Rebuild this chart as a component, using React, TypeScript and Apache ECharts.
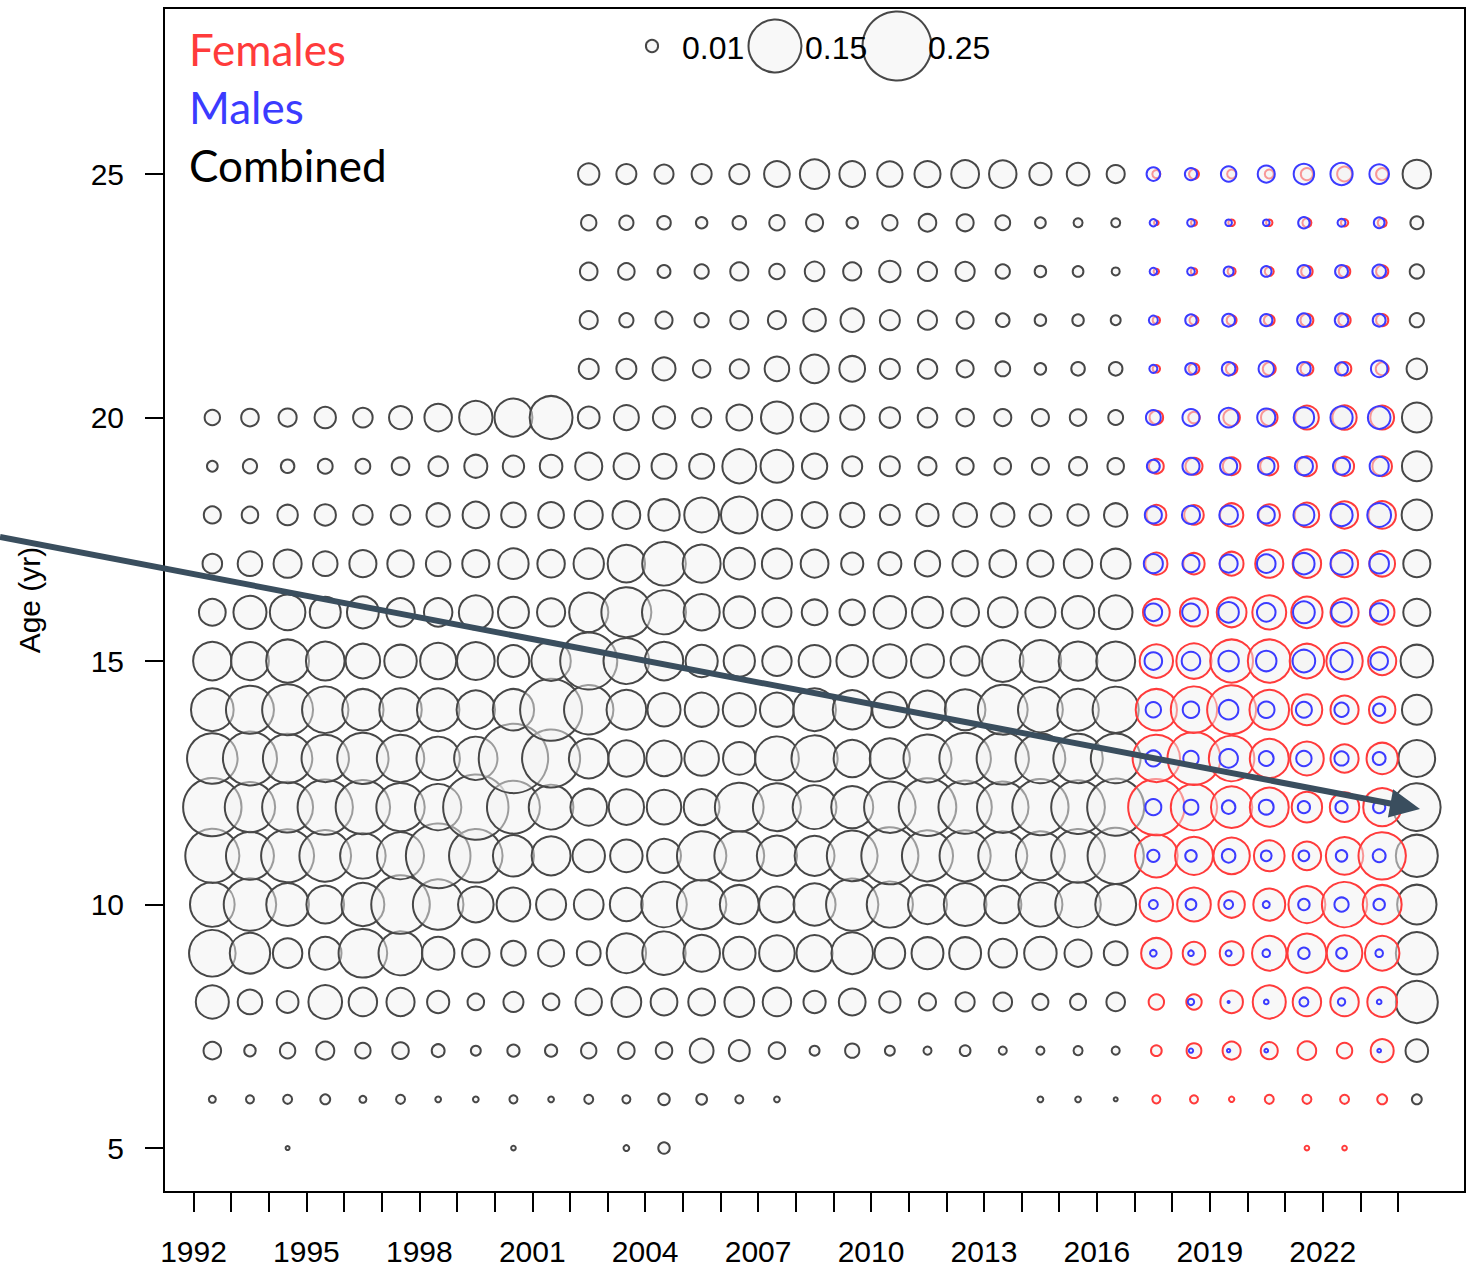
import React, { useEffect, useRef } from "react";
import * as echarts from "echarts";

// ---- data ----
const ages = [5, 6, 7, 8, 9, 10, 11, 12, 13, 14, 15, 16, 17, 18, 19, 20, 21, 22, 23, 24, 25];
const combinedYears = [1992, 1993, 1994, 1995, 1996, 1997, 1998, 1999, 2000, 2001, 2002, 2003, 2004, 2005, 2006, 2007, 2008, 2009, 2010, 2011, 2012, 2013, 2014, 2015, 2016, 2024];
const sexYears = [2017, 2018, 2019, 2020, 2021, 2022, 2023];
const xTickYears = [1992, 1993, 1994, 1995, 1996, 1997, 1998, 1999, 2000, 2001, 2002, 2003, 2004, 2005, 2006, 2007, 2008, 2009, 2010, 2011, 2012, 2013, 2014, 2015, 2016, 2017, 2018, 2019, 2020, 2021, 2022, 2023, 2024];
const xLabelYears = [1992, 1995, 1998, 2001, 2004, 2007, 2010, 2013, 2016, 2019, 2022];
const yTickAges = [5, 10, 15, 20, 25];
const sizeLegendValues = [0.01, 0.15, 0.25];
const sizeLegendLabels = ["0.01", "0.15", "0.25"];
const legendNames = ["Females", "Males", "Combined"];

type Row = (number | null)[];
const n = null;

// proportions at age 5..25, one row per year of combinedYears
const combinedValues: Row[] = [
  [n, 0.004, 0.019, 0.061, 0.117, 0.108, 0.156, 0.181, 0.137, 0.099, 0.081, 0.041, 0.023, 0.018, 0.008, 0.015, n, n, n, n, n],
  [n, 0.005, 0.009, 0.035, 0.089, 0.147, 0.124, 0.136, 0.156, 0.124, 0.079, 0.061, 0.035, 0.017, 0.013, 0.019, n, n, n, n, n],
  [0.0018, 0.006, 0.015, 0.028, 0.049, 0.099, 0.15, 0.139, 0.131, 0.139, 0.1, 0.07, 0.045, 0.025, 0.012, 0.02, n, n, n, n, n],
  [n, 0.007, 0.02, 0.063, 0.059, 0.078, 0.143, 0.163, 0.121, 0.116, 0.082, 0.054, 0.035, 0.027, 0.014, 0.027, n, n, n, n, n],
  [n, 0.004, 0.015, 0.046, 0.127, 0.1, 0.112, 0.158, 0.141, 0.093, 0.066, 0.057, 0.042, 0.023, 0.014, 0.023, n, n, n, n, n],
  [n, 0.006, 0.017, 0.045, 0.105, 0.182, 0.119, 0.126, 0.121, 0.098, 0.059, 0.046, 0.04, 0.023, 0.019, 0.031, n, n, n, n, n],
  [n, 0.003, 0.011, 0.029, 0.059, 0.137, 0.22, 0.116, 0.102, 0.098, 0.072, 0.046, 0.035, 0.032, 0.023, 0.043, n, n, n, n, n],
  [n, 0.003, 0.007, 0.017, 0.043, 0.07, 0.153, 0.225, 0.102, 0.081, 0.078, 0.064, 0.042, 0.04, 0.031, 0.062, n, n, n, n, n],
  [0.0022, 0.005, 0.01, 0.024, 0.035, 0.063, 0.092, 0.15, 0.253, 0.093, 0.056, 0.054, 0.052, 0.035, 0.027, 0.079, n, n, n, n, n],
  [n, 0.003, 0.01, 0.017, 0.039, 0.051, 0.083, 0.108, 0.179, 0.203, 0.085, 0.045, 0.043, 0.038, 0.03, 0.1, n, n, n, n, n],
  [n, 0.006, 0.015, 0.04, 0.033, 0.05, 0.059, 0.074, 0.086, 0.131, 0.173, 0.084, 0.052, 0.045, 0.042, 0.028, 0.024, 0.02, 0.019, 0.015, 0.027],
  [0.003, 0.005, 0.017, 0.05, 0.085, 0.061, 0.059, 0.069, 0.072, 0.086, 0.113, 0.134, 0.077, 0.044, 0.038, 0.036, 0.024, 0.013, 0.017, 0.013, 0.024],
  [0.009, 0.009, 0.017, 0.041, 0.102, 0.112, 0.064, 0.066, 0.069, 0.061, 0.081, 0.105, 0.103, 0.055, 0.036, 0.029, 0.031, 0.018, 0.011, 0.012, 0.022],
  [n, 0.008, 0.033, 0.041, 0.074, 0.131, 0.131, 0.071, 0.066, 0.064, 0.058, 0.072, 0.079, 0.067, 0.036, 0.022, 0.019, 0.013, 0.013, 0.009, 0.024],
  [n, 0.005, 0.026, 0.05, 0.059, 0.083, 0.133, 0.128, 0.059, 0.061, 0.055, 0.056, 0.055, 0.074, 0.064, 0.038, 0.022, 0.02, 0.02, 0.012, 0.024],
  [n, 0.003, 0.017, 0.046, 0.07, 0.07, 0.088, 0.124, 0.104, 0.064, 0.049, 0.048, 0.051, 0.051, 0.06, 0.057, 0.035, 0.02, 0.015, 0.015, 0.038],
  [n, n, 0.007, 0.029, 0.072, 0.096, 0.087, 0.104, 0.115, 0.099, 0.057, 0.038, 0.044, 0.038, 0.037, 0.044, 0.046, 0.03, 0.023, 0.018, 0.049],
  [n, n, 0.013, 0.041, 0.094, 0.146, 0.138, 0.096, 0.076, 0.083, 0.056, 0.037, 0.029, 0.034, 0.024, 0.034, 0.038, 0.032, 0.02, 0.009, 0.038],
  [n, n, 0.007, 0.027, 0.053, 0.115, 0.173, 0.142, 0.088, 0.069, 0.062, 0.059, 0.031, 0.024, 0.024, 0.025, 0.024, 0.024, 0.027, 0.015, 0.037],
  [n, n, 0.005, 0.018, 0.057, 0.083, 0.14, 0.176, 0.124, 0.079, 0.061, 0.054, 0.037, 0.029, 0.02, 0.023, 0.023, 0.022, 0.022, 0.019, 0.039],
  [n, n, 0.008, 0.022, 0.057, 0.099, 0.14, 0.152, 0.142, 0.09, 0.048, 0.044, 0.037, 0.033, 0.018, 0.019, 0.018, 0.018, 0.022, 0.018, 0.044],
  [n, n, 0.005, 0.021, 0.046, 0.076, 0.129, 0.142, 0.146, 0.133, 0.094, 0.05, 0.041, 0.032, 0.017, 0.018, 0.014, 0.012, 0.013, 0.014, 0.043],
  [n, 0.003, 0.005, 0.016, 0.059, 0.105, 0.129, 0.168, 0.133, 0.109, 0.094, 0.051, 0.039, 0.028, 0.018, 0.018, 0.009, 0.009, 0.009, 0.008, 0.029],
  [n, 0.003, 0.006, 0.016, 0.042, 0.112, 0.154, 0.154, 0.131, 0.094, 0.083, 0.059, 0.046, 0.027, 0.02, 0.017, 0.012, 0.009, 0.008, 0.006, 0.03],
  [n, 0.0018, 0.005, 0.021, 0.033, 0.091, 0.168, 0.173, 0.133, 0.115, 0.083, 0.063, 0.05, 0.032, 0.017, 0.014, 0.012, 0.007, 0.005, 0.006, 0.02],
  [n, 0.007, 0.03, 0.096, 0.096, 0.085, 0.096, 0.122, 0.074, 0.05, 0.059, 0.042, 0.042, 0.052, 0.05, 0.05, 0.025, 0.013, 0.013, 0.011, 0.046],
];

// one row per year of sexYears
const femaleValues: Row[] = [
  [n, 0.005, 0.008, 0.015, 0.052, 0.062, 0.099, 0.169, 0.121, 0.093, 0.062, 0.041, 0.029, 0.024, 0.014, 0.012, 0.0044, 0.0044, 0.0027, 0.0022, 0.005],
  [n, 0.005, 0.014, 0.015, 0.03, 0.063, 0.079, 0.116, 0.15, 0.116, 0.069, 0.045, 0.027, 0.023, 0.018, 0.009, 0.008, 0.006, 0.0035, 0.0032, 0.007],
  [n, 0.0027, 0.02, 0.03, 0.033, 0.04, 0.073, 0.093, 0.112, 0.129, 0.1, 0.05, 0.033, 0.032, 0.019, 0.017, 0.009, 0.007, 0.005, 0.0037, 0.006],
  [n, 0.006, 0.018, 0.061, 0.066, 0.057, 0.053, 0.083, 0.083, 0.086, 0.1, 0.064, 0.045, 0.027, 0.02, 0.017, 0.011, 0.008, 0.006, 0.0035, 0.006],
  [0.0022, 0.006, 0.021, 0.046, 0.083, 0.075, 0.046, 0.052, 0.063, 0.053, 0.066, 0.055, 0.046, 0.035, 0.024, 0.033, 0.011, 0.011, 0.009, 0.006, 0.01],
  [0.0022, 0.006, 0.015, 0.046, 0.07, 0.111, 0.077, 0.049, 0.045, 0.045, 0.073, 0.045, 0.042, 0.042, 0.022, 0.034, 0.012, 0.01, 0.009, 0.0044, 0.014],
  [n, 0.007, 0.031, 0.05, 0.066, 0.083, 0.121, 0.079, 0.055, 0.04, 0.045, 0.035, 0.038, 0.043, 0.023, 0.033, 0.011, 0.01, 0.01, 0.006, 0.01],
];

const maleValues: Row[] = [
  [n, n, n, n, 0.0037, 0.006, 0.01, 0.016, 0.016, 0.015, 0.019, 0.019, 0.022, 0.018, 0.011, 0.014, 0.005, 0.006, 0.0044, 0.0044, 0.012],
  [n, n, 0.002, 0.0035, 0.0029, 0.008, 0.009, 0.014, 0.015, 0.017, 0.021, 0.019, 0.018, 0.02, 0.018, 0.018, 0.009, 0.009, 0.0046, 0.0046, 0.01],
  [n, n, 0.0014, 0.0008, 0.0032, 0.006, 0.012, 0.012, 0.021, 0.023, 0.025, 0.025, 0.02, 0.021, 0.018, 0.023, 0.012, 0.011, 0.007, 0.0037, 0.015],
  [n, n, 0.0016, 0.0022, 0.0046, 0.004, 0.008, 0.014, 0.014, 0.017, 0.025, 0.021, 0.021, 0.018, 0.017, 0.02, 0.015, 0.01, 0.008, 0.0037, 0.018],
  [n, n, n, 0.006, 0.009, 0.009, 0.008, 0.01, 0.015, 0.016, 0.03, 0.028, 0.027, 0.026, 0.02, 0.025, 0.012, 0.012, 0.011, 0.009, 0.025],
  [n, n, n, 0.0044, 0.008, 0.013, 0.009, 0.01, 0.013, 0.013, 0.029, 0.025, 0.029, 0.029, 0.018, 0.029, 0.011, 0.012, 0.011, 0.005, 0.029],
  [n, n, 0.0016, 0.0022, 0.0046, 0.009, 0.011, 0.01, 0.011, 0.01, 0.019, 0.02, 0.023, 0.033, 0.022, 0.03, 0.017, 0.011, 0.012, 0.008, 0.023],
];

// ---- styling helpers ----
const SIZE_K = 142; // diameter per sqrt(proportion)
const LW = 2;
const bubbleSize = (v: number) => Math.max(SIZE_K * Math.sqrt(v) - LW, 1.5);
const FEMALE_SHIFT = 0.08;
const COL_SHIFT = 0.5;

function toPoints(years: number[], rows: Row[], shift: number) {
  const pts: number[][] = [];
  years.forEach((yr, i) => {
    rows[i].forEach((v, j) => {
      if (v != null) pts.push([yr + COL_SHIFT + shift, ages[j], v]);
    });
  });
  return pts;
}

const FILL = "rgba(242,242,242,0.5)";
const GREY = "#474747";
const RED = "#ff3b3b";
const BLUE = "#3b3bff";
const ARROW = "#3a4e5e";

export default function App() {
  const ref = useRef<HTMLDivElement>(null);
  useEffect(() => {
    if (!ref.current) return;
    const chart = echarts.init(ref.current, undefined, { renderer: "svg" });

    const legendX = [652, 775, 897];
    const legendTextX = [682, 805, 928];
    const graphics: any[] = [];
    legendNames.forEach((name, i) => {
      graphics.push({
        type: "text",
        x: 189,
        y: 48.5 + i * 58.3,
        z: 50,
        style: {
          text: name,
          fill: [RED, BLUE, "#000"][i],
          font: "44px Lato",
          verticalAlign: "middle",
          align: "left",
        },
      });
    });
    sizeLegendValues.forEach((v, i) => {
      graphics.push({
        type: "circle",
        z: 50,
        shape: { cx: legendX[i], cy: 46, r: bubbleSize(v) / 2 },
        style: { fill: FILL, stroke: GREY, lineWidth: LW },
      });
      graphics.push({
        type: "text",
        x: legendTextX[i],
        y: 48,
        z: 51,
        style: {
          text: sizeLegendLabels[i],
          fill: "#000",
          font: '32px "Liberation Sans"',
          verticalAlign: "middle",
          align: "left",
        },
      });
    });
    // annotation arrow
    graphics.push({
      type: "line",
      z: 100,
      shape: { x1: 0, y1: 537, x2: 1393, y2: 804 },
      style: { stroke: ARROW, lineWidth: 6 },
    });
    graphics.push({
      type: "polygon",
      z: 101,
      shape: { points: [[1420, 809], [1387.9, 817.5], [1393.1, 789.3]] },
      style: { fill: ARROW },
    });

    const baseSeries = (name: string, data: number[][], stroke: string) => ({
      name,
      type: "scatter",
      data,
      symbol: "circle",
      symbolSize: (d: number[]) => bubbleSize(d[2]),
      itemStyle: { color: FILL, borderColor: stroke, borderWidth: LW, opacity: 1 },
      silent: true,
      clip: false,
      emphasis: { disabled: true },
    });

    chart.setOption({
      animation: false,
      grid: {
        left: 164,
        right: 8,
        top: 8,
        bottom: 75,
        show: true,
        borderColor: "#000",
        borderWidth: 2,
        backgroundColor: "transparent",
      },
      xAxis: {
        type: "value",
        min: 1991.216,
        max: 2025.78,
        splitLine: { show: false },
        axisLine: { show: false },
        axisTick: {
          show: true,
          inside: false,
          length: 20,
          lineStyle: { color: "#000", width: 2 },
          customValues: xTickYears,
        },
        axisLabel: {
          customValues: xLabelYears,
          margin: 44,
          fontSize: 30,
          fontFamily: "Liberation Sans",
          color: "#000",
          formatter: (v: number) => String(v),
        },
      },
      yAxis: {
        type: "value",
        min: 4.097,
        max: 28.41,
        name: "Age (yr)",
        nameLocation: "middle",
        nameRotate: 90,
        nameGap: 120,
        nameTextStyle: { fontSize: 30, fontFamily: "Liberation Sans", color: "#000" },
        splitLine: { show: false },
        axisLine: { show: false },
        axisTick: {
          show: true,
          inside: false,
          length: 19,
          lineStyle: { color: "#000", width: 2 },
          customValues: yTickAges,
        },
        axisLabel: {
          customValues: yTickAges,
          margin: 40,
          fontSize: 30,
          fontFamily: "Liberation Sans",
          color: "#000",
          formatter: (v: number) => String(v),
        },
      },
      series: [
        baseSeries("Combined", toPoints(combinedYears, combinedValues, 0), GREY),
        baseSeries("Females", toPoints(sexYears, femaleValues, FEMALE_SHIFT), RED),
        baseSeries("Males", toPoints(sexYears, maleValues, 0), BLUE),
      ],
      graphic: graphics,
    });

    return () => chart.dispose();
  }, []);

  return (
    <div
      ref={ref}
      style={{ position: "absolute", left: 0, top: 0, width: 1473, height: 1267, background: "#fff" }}
    />
  );
}
